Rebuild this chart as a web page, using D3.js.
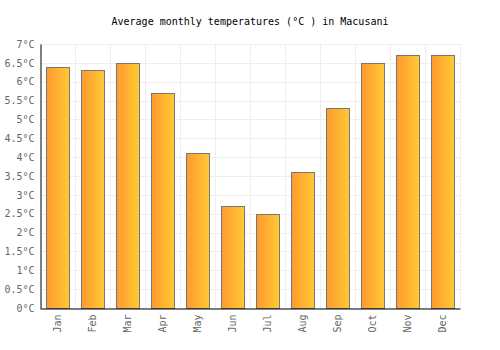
<!DOCTYPE html>
<html>
<head>
<meta charset="utf-8">
<script src="https://cdn.jsdelivr.net/npm/d3@7"></script>
<style>
  body { margin: 0; background: #fff; }
  text { font-family: "DejaVu Sans Mono", monospace; }
</style>
</head>
<body>
<div id="chart"></div>
<script>
const months = ["Jan","Feb","Mar","Apr","May","Jun","Jul","Aug","Sep","Oct","Nov","Dec"];
const temps = [6.4, 6.3, 6.5, 5.7, 4.1, 2.7, 2.5, 3.6, 5.3, 6.5, 6.7, 6.7];
const yTicks = [0, 0.5, 1, 1.5, 2, 2.5, 3, 3.5, 4, 4.5, 5, 5.5, 6, 6.5, 7];

const width = 500, height = 350;
const margin = {top: 44, left: 40, right: 40, bottom: 42};

const svg = d3.select("#chart")
    .append("svg")
    .attr("width", width)
    .attr("height", height);

const defs = svg.append("defs");
const grad = defs.append("linearGradient")
    .attr("id", "barGrad")
    .attr("x1", "0%").attr("x2", "100%").attr("y1", "0%").attr("y2", "0%");
grad.append("stop").attr("offset", "0%").attr("stop-color", "#ff9a30");
grad.append("stop").attr("offset", "100%").attr("stop-color", "#ffc933");

const xScale = d3.scaleBand()
    .domain(months)
    .range([margin.left, width - margin.right])
    .paddingInner(0.34)
    .paddingOuter(0.17);

const yScale = d3.scaleLinear()
    .domain([0, 7])
    .range([height - margin.bottom, margin.top]);

// grid
const step = xScale.step();
const grid = svg.append("g").attr("stroke", "#eeeeee").attr("stroke-width", 1);
grid.selectAll("line.h")
    .data(yTicks)
    .enter().append("line")
    .attr("x1", margin.left)
    .attr("x2", width - margin.right)
    .attr("y1", d => Math.round(yScale(d)) + 0.5)
    .attr("y2", d => Math.round(yScale(d)) + 0.5);
grid.selectAll("line.v")
    .data(months)
    .enter().append("line")
    .attr("x1", d => Math.round(xScale(d) - xScale.paddingOuter() * step + step) + 0.5)
    .attr("x2", d => Math.round(xScale(d) - xScale.paddingOuter() * step + step) + 0.5)
    .attr("y1", margin.top)
    .attr("y2", height - margin.bottom);

// bars
svg.selectAll("rect.bar")
    .data(months)
    .enter().append("rect")
    .attr("class", "bar")
    .attr("x", d => Math.round(xScale(d)) + 0.5)
    .attr("y", (d, i) => Math.round(yScale(temps[i])) + 0.5)
    .attr("width", Math.round(xScale.bandwidth()))
    .attr("height", (d, i) => Math.round(yScale(0)) - Math.round(yScale(temps[i])))
    .attr("fill", "url(#barGrad)")
    .attr("stroke", "#777777")
    .attr("stroke-width", 1);

// axes
const yAxis = svg.append("g")
    .attr("transform", `translate(${margin.left + 0.5},0)`)
    .call(d3.axisLeft(yScale).tickValues(yTicks).tickSize(0).tickPadding(6)
        .tickFormat(d => d3.format("")(d) + "°C"));
yAxis.select(".domain").attr("stroke", "#000");
yAxis.selectAll("text").attr("fill", "#666").attr("font-size", 10)
    .attr("font-family", "DejaVu Sans Mono, monospace");

const xAxis = svg.append("g")
    .attr("transform", `translate(0,${height - margin.bottom + 0.5})`)
    .call(d3.axisBottom(xScale).tickSize(0));
xAxis.select(".domain").attr("stroke", "#000");
xAxis.selectAll("text")
    .attr("fill", "#666").attr("font-size", 10)
    .attr("font-family", "DejaVu Sans Mono, monospace")
    .attr("transform", "rotate(-90)")
    .attr("text-anchor", "end")
    .attr("x", -6)
    .attr("y", 0)
    .attr("dy", "0.35em");

// title
svg.append("text")
    .attr("x", 250)
    .attr("y", 25)
    .attr("text-anchor", "middle")
    .attr("font-size", 10)
    .attr("fill", "#000")
    .text("Average monthly temperatures (°C ) in Macusani");
</script>
</body>
</html>
